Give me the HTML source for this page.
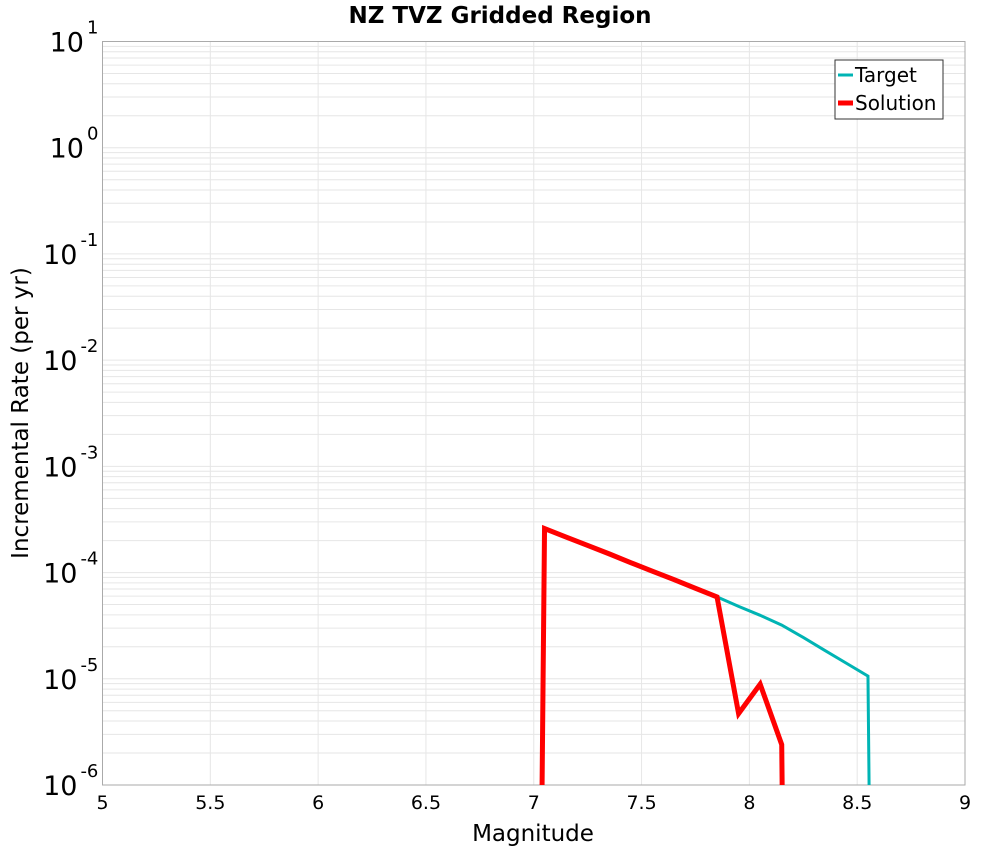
<!DOCTYPE html>
<html><head><meta charset="utf-8"><style>
html,body{margin:0;padding:0;background:#fff;overflow:hidden;width:1000px;height:850px;font-family:"DejaVu Sans","Liberation Sans",sans-serif}
svg{display:block}
</style></head><body>
<svg id="chart" width="1000" height="850" xmlns="http://www.w3.org/2000/svg">
<text x="500" y="23" text-anchor="middle" font-size="23" font-weight="bold" font-family="DejaVu Sans, Liberation Sans, sans-serif">NZ TVZ Gridded Region</text>
<g id="grid"></g>
<g id="axes"></g>
<g id="series"></g>
<text x="533" y="841" text-anchor="middle" font-size="23" font-family="DejaVu Sans, Liberation Sans, sans-serif">Magnitude</text>
<text transform="translate(28,413) rotate(-90)" text-anchor="middle" font-size="23" font-family="DejaVu Sans, Liberation Sans, sans-serif">Incremental Rate (per yr)</text>
<g>
<rect x="835" y="60" width="108" height="59" fill="#fff" stroke="#333" stroke-width="1"/>
<line x1="838" y1="75" x2="853" y2="75" stroke="#00b4b4" stroke-width="3"/>
<text x="855" y="82" font-size="20" font-family="DejaVu Sans, Liberation Sans, sans-serif">Target</text>
<line x1="838" y1="103" x2="853" y2="103" stroke="#ff0000" stroke-width="5"/>
<text x="855" y="110" font-size="20" font-family="DejaVu Sans, Liberation Sans, sans-serif">Solution</text>
</g>
</svg>
<script>
const targetMags = [6.95, 7.05, 7.15, 7.25, 7.35, 7.45, 7.55, 7.65, 7.75, 7.85, 7.95, 8.05, 8.15, 8.25, 8.35, 8.45, 8.55, 8.65];
const targetRates = [1e-30, 2.6e-4, 2.16e-4, 1.8e-4, 1.5e-4, 1.24e-4, 1.03e-4, 8.6e-5, 7.1e-5, 5.9e-5, 4.8e-5, 3.96e-5, 3.2e-5, 2.45e-5, 1.85e-5, 1.4e-5, 1.06e-5, 1e-40];
const solutionMags = [6.95, 7.05, 7.15, 7.25, 7.35, 7.45, 7.55, 7.65, 7.75, 7.85, 7.95, 8.05, 8.15, 8.25];
const solutionRates = [1e-30, 2.6e-4, 2.16e-4, 1.8e-4, 1.5e-4, 1.24e-4, 1.03e-4, 8.6e-5, 7.1e-5, 5.9e-5, 4.7e-6, 8.9e-6, 2.4e-6, 1e-40];
const xTicks = [5, 5.5, 6, 6.5, 7, 7.5, 8, 8.5, 9];
const xTickLabels = ["5", "5.5", "6", "6.5", "7", "7.5", "8", "8.5", "9"];
const yExps = [1, 0, -1, -2, -3, -4, -5, -6];

const L=102.5, R=965, T=41.5, B=785;
const xMin=5, xMax=9, yMaxE=1, yMinE=-6;
function xs(v){return L+(v-xMin)/(xMax-xMin)*(R-L);}
function ys(v){const e=Math.log10(v);return T+(yMaxE-e)/(yMaxE-yMinE)*(B-T);}
const NS="http://www.w3.org/2000/svg";
function mk(tag,attrs,parent){const e=document.createElementNS(NS,tag);for(const k in attrs)e.setAttribute(k,attrs[k]);parent.appendChild(e);return e;}
const grid=document.getElementById('grid'), axes=document.getElementById('axes'), series=document.getElementById('series');
for(let e=yMinE;e<yMaxE;e++){for(let m=1;m<10;m++){const y=ys(m*Math.pow(10,e));
const g=mk('line',{x1:L,x2:R,y1:y,y2:y,stroke:'#e6e6e6','stroke-width':1},grid);

}}
xTicks.forEach((t,i)=>{const x=xs(t);
const g=mk('line',{x1:x,x2:x,y1:T,y2:B,stroke:'#e6e6e6','stroke-width':1},grid);


const tx=mk('text',{x:x,y:809,'text-anchor':'middle','font-size':19},axes);
tx.textContent=xTickLabels[i];

});
yExps.forEach(e=>{const y=ys(Math.pow(10,e));
const tx=mk('text',{x:102,y:y+10,'text-anchor':'end','font-size':27},axes);


const b=mk('tspan',{},tx);b.textContent='10';
const s=mk('tspan',{dy:-18,dx:3,'font-size':18},tx);s.textContent=String(e);
const p=mk('tspan',{'font-size':18,dx:0},tx);p.textContent='\u2009';
});
const frame=mk('rect',{x:L,y:T,width:R-L,height:B-T,fill:'none',stroke:'#aaa','stroke-width':1},axes);


const defs=mk('defs',{},series);
const cp=mk('clipPath',{id:'clip'},defs);
mk('rect',{x:L,y:T,width:R-L,height:B-T},cp);
function pts(ms,rs){return ms.map((m,i)=>{let y=ys(rs[i]);if(y>B+2000)y=B+2000;return xs(m)+','+y;}).join(' ');}
const tl=mk('polyline',{points:pts(targetMags,targetRates),fill:'none',stroke:'#00b4b4','stroke-width':3,'clip-path':'url(#clip)','stroke-linejoin':'miter'},series);


const sl=mk('polyline',{points:pts(solutionMags,solutionRates),fill:'none',stroke:'#ff0000','stroke-width':5,'clip-path':'url(#clip)','stroke-linejoin':'miter'},series);


</script>
</body></html>
